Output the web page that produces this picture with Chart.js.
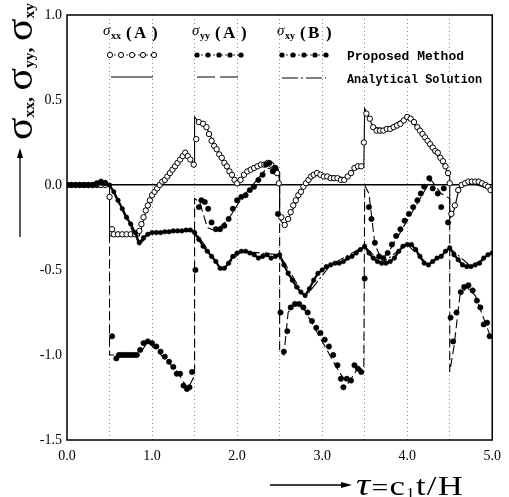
<!DOCTYPE html>
<html><head><meta charset="utf-8">
<script src="https://cdn.jsdelivr.net/npm/chart.js@4.4.1/dist/chart.umd.min.js"></script>
<style>html,body{margin:0;padding:0;background:#fff}#wrap{width:509px;height:497px;position:relative}</style>
</head><body><div id="wrap"><canvas id="c" width="509" height="497"></canvas></div>
<script>
// ---- tick values ----
const xTickLabels = [0.0, 1.0, 2.0, 3.0, 4.0, 5.0];
const yTickLabels = [-1.5, -1.0, -0.5, 0.0, 0.5, 1.0];

// ---- sigma_xx (A), proposed method (open circles) ----
const sxxT = [0,0.05,0.1,0.15,0.2,0.25,0.3,0.35,0.4,0.45,
  0.50,0.53,0.55,0.60,0.65,0.70,0.75,0.80,0.85,0.875,0.90,0.925,0.95,0.975,1.00,1.03,1.06,1.09,1.12,1.15,1.18,1.21,1.24,1.27,1.30,1.33,1.36,1.39,1.42,1.45,1.49,
  1.52,1.55,1.60,1.64,1.67,1.70,1.73,1.76,1.79,1.82,1.85,1.88,1.91,1.94,1.97,2.00,2.04,2.08,2.12,2.16,2.20,2.24,2.28,2.32,2.36,2.40,2.44,2.47,2.49,
  2.52,2.56,2.60,2.63,2.66,2.69,2.72,2.75,2.78,2.81,2.84,2.87,2.90,2.94,2.98,3.02,3.06,3.10,3.14,3.18,3.22,3.26,3.30,3.34,3.38,3.42,3.46,
  3.49,3.52,3.56,3.60,3.64,3.68,3.72,3.76,3.80,3.84,3.88,3.92,3.96,4.00,4.04,4.08,4.12,4.15,4.18,4.21,4.24,4.27,4.30,4.33,4.36,4.39,4.42,4.45,4.48,4.50,
  4.52,4.56,4.60,4.64,4.68,4.72,4.76,4.80,4.84,4.88,4.92,4.95,4.98];
const sxxV = [0,0,0,0,0,0,0,0,0,0,
  -0.07,-0.26,-0.29,-0.29,-0.29,-0.29,-0.29,-0.29,-0.27,-0.23,-0.19,-0.15,-0.12,-0.09,-0.06,-0.04,-0.02,0.00,0.02,0.03,0.05,0.07,0.09,0.11,0.13,0.15,0.17,0.19,0.17,0.15,0.12,
  0.27,0.37,0.36,0.34,0.30,0.26,0.23,0.21,0.18,0.16,0.13,0.11,0.08,0.06,0.03,0.01,0.03,0.06,0.08,0.09,0.10,0.11,0.12,0.12,0.13,0.12,0.10,0.07,0.01,
  -0.19,-0.235,-0.20,-0.16,-0.12,-0.09,-0.06,-0.04,-0.01,0.01,0.03,0.05,0.06,0.07,0.06,0.05,0.05,0.04,0.04,0.04,0.03,0.03,0.05,0.07,0.10,0.11,0.11,
  0.25,0.42,0.39,0.34,0.32,0.32,0.32,0.33,0.33,0.34,0.35,0.36,0.38,0.40,0.39,0.37,0.34,0.32,0.30,0.28,0.26,0.24,0.22,0.20,0.19,0.16,0.14,0.11,0.07,0.01,
  -0.17,-0.12,-0.03,0.0,0.01,0.02,0.02,0.02,0.02,0.01,0.00,-0.01,-0.03];

// ---- sigma_yy (A), proposed method (filled circles) ----
const syyT = [0,0.05,0.1,0.15,0.2,0.25,0.3,0.35,0.4,0.45,
  0.53,0.58,0.61,0.64,0.67,0.70,0.73,0.76,0.79,0.82,0.86,0.90,0.95,1.00,1.05,1.10,1.15,1.20,1.25,1.29,1.33,1.37,1.41,1.44,1.47,
  1.51,1.55,1.58,1.62,1.66,1.70,1.75,1.80,1.85,1.90,1.95,2.00,2.05,2.10,2.15,2.20,2.25,2.30,2.34,2.38,2.42,2.45,2.48,
  2.51,2.55,2.59,2.63,2.68,2.73,2.78,2.83,2.88,2.93,2.98,3.03,3.08,3.13,3.18,3.22,3.25,3.29,3.34,3.38,3.42,3.46,
  3.50,3.55,3.58,3.62,3.67,3.72,3.77,3.82,3.87,3.92,3.97,4.02,4.07,4.12,4.16,4.20,4.26,4.30,4.36,4.40,4.43,4.48,
  4.51,4.54,4.58,4.63,4.67,4.72,4.77,4.82,4.86,4.90,4.94,4.97];
const syyV = [0,0,0,0,0,0,0,0.01,0.02,0.01,
  -0.89,-1.02,-1.00,-1.00,-1.00,-1.00,-1.00,-1.00,-1.00,-1.00,-0.97,-0.93,-0.92,-0.93,-0.95,-0.98,-1.01,-1.04,-1.07,-1.11,-1.11,-1.18,-1.20,-1.19,-1.10,
  -0.50,-0.13,-0.09,-0.10,-0.14,-0.22,-0.26,-0.26,-0.24,-0.20,-0.14,-0.09,-0.07,-0.06,-0.03,-0.01,0.03,0.06,0.12,0.13,0.08,0.10,-0.17,
  -0.75,-0.98,-0.86,-0.72,-0.70,-0.70,-0.72,-0.75,-0.80,-0.84,-0.87,-0.91,-0.95,-1.00,-1.06,-1.14,-1.19,-1.14,-1.15,-1.06,-1.08,-1.10,
  -0.55,-0.13,-0.20,-0.34,-0.42,-0.43,-0.40,-0.35,-0.30,-0.26,-0.21,-0.17,-0.13,-0.09,-0.05,-0.01,0.04,-0.02,-0.05,-0.13,-0.02,-0.22,
  -0.78,-0.92,-0.75,-0.63,-0.60,-0.59,-0.62,-0.68,-0.72,-0.82,-0.81,-0.89];

// ---- sigma_xy (B), proposed method (small filled circles) ----
const sxyT = [0,0.05,0.1,0.15,0.2,0.25,0.3,0.35,0.4,0.45,0.5,0.55,0.6,0.65,0.7,0.75,0.8,0.85,0.9,0.95,
  1.0,1.05,1.1,1.15,1.2,1.25,1.3,1.35,1.4,1.45,1.5,1.55,1.6,1.65,1.7,1.75,1.8,1.85,1.9,1.95,
  2.0,2.05,2.1,2.15,2.2,2.25,2.3,2.35,2.4,2.45,2.5,2.55,2.6,2.65,2.7,2.75,2.8,2.85,2.9,2.95,
  3.0,3.05,3.1,3.15,3.2,3.25,3.3,3.35,3.4,3.45,3.5,3.55,3.6,3.65,3.7,3.75,3.8,3.85,3.9,3.95,
  4.0,4.05,4.1,4.15,4.2,4.25,4.3,4.35,4.4,4.45,4.5,4.55,4.6,4.65,4.7,4.75,4.8,4.85,4.9,4.95,5.0];
const sxyV = [0,0,0,0,0,0,0,0,0.01,0.015,0,-0.04,-0.09,-0.14,-0.19,-0.23,-0.28,-0.34,-0.31,-0.29,
  -0.28,-0.28,-0.28,-0.275,-0.275,-0.27,-0.27,-0.27,-0.265,-0.265,-0.28,-0.32,-0.36,-0.39,-0.42,-0.45,-0.49,-0.49,-0.46,-0.42,
  -0.40,-0.39,-0.39,-0.40,-0.41,-0.43,-0.42,-0.41,-0.43,-0.42,-0.41,-0.47,-0.52,-0.56,-0.60,-0.63,-0.65,-0.61,-0.56,-0.52,
  -0.50,-0.48,-0.47,-0.46,-0.46,-0.45,-0.43,-0.42,-0.40,-0.38,-0.36,-0.40,-0.43,-0.45,-0.46,-0.46,-0.45,-0.43,-0.39,-0.36,
  -0.35,-0.35,-0.38,-0.42,-0.46,-0.47,-0.45,-0.43,-0.42,-0.39,-0.37,-0.41,-0.44,-0.47,-0.48,-0.48,-0.47,-0.46,-0.43,-0.41,-0.40];

// ---- analytical solutions ----
const axxT = [0,0.5,0.5,0.85,0.92,1.0,1.1,1.2,1.3,1.4,1.5,1.5,1.55,1.62,1.75,1.9,2.0,2.15,2.35,2.48,2.5,2.5,2.56,2.62,2.8,2.92,3.3,3.4,3.49,3.5,3.6,3.75,4.0,4.2,4.45,4.5,4.5,4.55,4.62,4.7,5.0];
const axxV = [0,0,-0.30,-0.30,-0.17,-0.06,0.01,0.06,0.13,0.19,0.12,0.40,0.37,0.36,0.22,0.08,0.0,0.09,0.13,0.10,0.02,-0.20,-0.24,-0.18,0,0.07,0.04,0.11,0.11,0.45,0.34,0.33,0.40,0.29,0.10,0.05,-0.20,-0.15,0.0,0.02,-0.03];
const ayyT = [0,0.5,0.5,0.85,0.95,1.3,1.42,1.5,1.5,1.56,1.65,1.75,1.9,2.05,2.35,2.5,2.5,2.55,2.6,2.68,2.8,3.2,3.3,3.42,3.49,3.5,3.55,3.62,3.7,3.8,4.28,4.4,4.5,4.5,4.55,4.62,4.7,4.8,5.0];
const ayyV = [0,0,-1.0,-1.0,-0.92,-1.10,-1.20,-1.12,-0.08,-0.10,-0.25,-0.27,-0.20,-0.08,0.10,0.08,-0.98,-1.0,-0.75,-0.69,-0.74,-1.10,-1.17,-1.08,-1.08,0.0,-0.05,-0.35,-0.44,-0.38,0.03,-0.05,-0.08,-1.10,-0.95,-0.65,-0.60,-0.65,-0.92];
const axyT = [0,0.5,0.85,1.0,1.5,1.82,2.05,2.5,2.8,3.1,3.5,3.7,4.0,4.25,4.5,4.75,5.0];
const axyV = [0,0,-0.35,-0.28,-0.27,-0.50,-0.39,-0.41,-0.66,-0.47,-0.36,-0.46,-0.35,-0.47,-0.37,-0.48,-0.40];

const pts = (t, v) => t.map((x, i) => ({x: x, y: v[i]}));
const SERIF = "'Liberation Serif', 'Times New Roman', serif";

const overlay = {
  id: 'overlay',
  afterDraw(chart) {
    const ctx = chart.ctx, a = chart.chartArea;
    ctx.save();
    // frame
    ctx.strokeStyle = '#000'; ctx.lineWidth = 1.5;
    ctx.strokeRect(a.left, a.top, a.right - a.left, a.bottom - a.top);

    // legend titles
    ctx.fillStyle = '#000'; ctx.textBaseline = 'alphabetic';
    function lab(x, sub, letter) {
      ctx.font = 'italic 15px ' + SERIF; ctx.textAlign = 'left';
      ctx.fillText('σ', x, 35);
      ctx.font = 'bold 10px ' + SERIF;
      ctx.fillText(sub, x + 8, 39);
      ctx.font = 'bold 17px ' + SERIF;
      ctx.fillText('(', x + 23, 38);
      ctx.fillText(letter, x + 31, 38);
      ctx.fillText(')', x + 49, 38);
    }
    lab(103, 'xx', 'A'); lab(192, 'yy', 'A'); lab(277, 'xy', 'B');

    // legend marker rows
    function markers(x0, open, r) {
      ctx.lineWidth = 0.8; ctx.strokeStyle = '#000';
      ctx.setLineDash([2, 2]);
      ctx.beginPath(); ctx.moveTo(x0, 55); ctx.lineTo(x0 + 44, 55); ctx.stroke();
      ctx.setLineDash([]);
      for (let i = 0; i < 5; i++) {
        ctx.beginPath(); ctx.arc(x0 + i * 11, 55, r, 0, Math.PI * 2);
        if (open) { ctx.fillStyle = '#fff'; ctx.fill(); ctx.lineWidth = 1; ctx.stroke(); }
        else { ctx.fillStyle = '#000'; ctx.fill(); }
      }
    }
    markers(110, true, 2.6); markers(197, false, 2.6); markers(282, false, 2.6);
    // legend line rows
    ctx.strokeStyle = '#000'; ctx.lineWidth = 1.2;
    ctx.setLineDash([]);
    ctx.beginPath(); ctx.moveTo(111, 77); ctx.lineTo(153, 77); ctx.stroke();
    ctx.setLineDash([18, 5]);
    ctx.beginPath(); ctx.moveTo(197, 77); ctx.lineTo(239, 77); ctx.stroke();
    ctx.setLineDash([16, 3, 2, 3]);
    ctx.beginPath(); ctx.moveTo(282, 78); ctx.lineTo(326, 78); ctx.stroke();
    ctx.setLineDash([]);

    ctx.fillStyle = '#000';
    ctx.font = "bold 13px 'Liberation Mono', monospace"; ctx.textAlign = 'left'; ctx.textBaseline = 'middle';
    ctx.fillText('Proposed Method', 347, 57, 130);
    ctx.fillText('Analytical Solution', 347, 80, 135);

    // y-axis title (rotated)
    ctx.save();
    ctx.translate(32, 140);
    ctx.rotate(-Math.PI / 2);
    ctx.textBaseline = 'alphabetic'; ctx.textAlign = 'left';
    const parts = [['σ', 'big'], ['xx', 'sub'], [',', 'com'], ['σ', 'big'], ['yy', 'sub'], [',', 'com'], ['σ', 'big'], ['xy', 'sub']];
    const fontOf = k => k === 'big' ? '38px ' + SERIF : (k === 'sub' ? 'bold 14px ' + SERIF : 'bold 18px ' + SERIF);
    let total = 0;
    const widths = parts.map(p => { ctx.font = fontOf(p[1]); const w = ctx.measureText(p[0]).width + (p[1] === 'com' ? 6 : 0); total += w; return w; });
    const k = 137 / total;
    ctx.scale(k, 1);
    let px = 0;
    parts.forEach((p, i) => {
      ctx.font = fontOf(p[1]);
      const dy = p[1] === 'sub' ? 2 : 0;
      ctx.fillText(p[0], px, dy);
      px += widths[i];
    });
    ctx.restore();
    // y arrow
    ctx.strokeStyle = '#000'; ctx.lineWidth = 1.3;
    ctx.beginPath(); ctx.moveTo(20, 237); ctx.lineTo(20, 154); ctx.stroke();
    ctx.beginPath(); ctx.moveTo(20, 148); ctx.lineTo(17, 158); ctx.lineTo(23, 158); ctx.closePath(); ctx.fillStyle = '#000'; ctx.fill();

    // x-axis title
    ctx.beginPath(); ctx.moveTo(270, 485); ctx.lineTo(344, 485); ctx.stroke();
    ctx.beginPath(); ctx.moveTo(352, 485); ctx.lineTo(341, 482); ctx.lineTo(341, 488); ctx.closePath(); ctx.fill();
    ctx.textBaseline = 'alphabetic'; ctx.textAlign = 'left';
    const xt = [['τ', 'italic 32px ' + SERIF, 0], ['=', '24px ' + SERIF, 0], ['c', '28px ' + SERIF, 0], ['1', '14px ' + SERIF, 3], ['t', '28px ' + SERIF, 0], ['/', '28px ' + SERIF, 0], ['H', '28px ' + SERIF, 0]];
    let tw = 0;
    const xw = xt.map(p => { ctx.font = p[1]; const w = ctx.measureText(p[0]).width + 1; tw += w; return w; });
    ctx.save();
    ctx.translate(356, 0);
    ctx.scale(108 / tw, 1);
    let tx = 0;
    xt.forEach((p, i) => { ctx.font = p[1]; ctx.fillText(p[0], tx, 495 + p[2]); tx += xw[i]; });
    ctx.restore();
    ctx.restore();
  }
};

new Chart(document.getElementById('c'), {
  type: 'scatter',
  data: {
    datasets: [
      {label: 'σyy(A) Proposed', data: pts(syyT, syyV), pointRadius: 2.7, pointBackgroundColor: '#000', pointBorderColor: '#000', pointBorderWidth: 0.5, showLine: false, order: 1},
      {label: 'σxy(B) Proposed', data: pts(sxyT, sxyV), pointRadius: 2.3, pointBackgroundColor: '#000', pointBorderColor: '#000', pointBorderWidth: 0.5, showLine: true, borderColor: '#000', borderWidth: 2.2, order: 2},
      {label: 'σxx(A) Proposed', data: pts(sxxT, sxxV), pointRadius: 2.7, pointBackgroundColor: '#fff', pointBorderColor: '#000', pointBorderWidth: 1, showLine: false, order: 3},
      {label: 'σxx(A) Analytical', data: pts(axxT, axxV), pointRadius: 0, showLine: true, borderColor: '#000', borderWidth: 1.1, order: 4},
      {label: 'σyy(A) Analytical', data: pts(ayyT, ayyV), pointRadius: 0, showLine: true, borderColor: '#000', borderWidth: 1.1, borderDash: [9, 4], order: 5},
      {label: 'σxy(B) Analytical', data: pts(axyT, axyV), pointRadius: 0, showLine: true, borderColor: '#000', borderWidth: 1.1, borderDash: [10, 3, 2, 3], order: 6}
    ]
  },
  options: {
    responsive: false, animation: false, devicePixelRatio: 1,
    layout: {padding: {left: 0, right: 12, top: 15, bottom: 27}},
    plugins: {legend: {display: false}, tooltip: {enabled: false}},
    scales: {
      x: {
        type: 'linear', min: 0, max: 5,
        afterFit: s => { s.height = 30; },
        ticks: {stepSize: 0.5, autoSkip: false, maxRotation: 0, padding: 8, color: '#000',
          font: {family: SERIF, size: 14},
          callback: v => xTickLabels.some(t => Math.abs(t - v) < 1e-6) ? Number(v).toFixed(1) : ''},
        grid: {drawTicks: false, lineWidth: 1,
          color: c => (c.tick && (Math.abs(c.tick.value) < 1e-6 || Math.abs(c.tick.value - 5) < 1e-6)) ? 'rgba(0,0,0,0)' : '#8a8a8a'},
        border: {display: false, dash: [1, 3]}
      },
      y: {
        min: -1.5, max: 1.0,
        afterFit: s => { s.width = 67; },
        ticks: {stepSize: 0.5, padding: 5, color: '#000', font: {family: SERIF, size: 14},
          callback: v => yTickLabels.some(t => Math.abs(t - v) < 1e-6) ? Number(v).toFixed(1) : ''},
        grid: {drawTicks: false,
          color: c => (c.tick && Math.abs(c.tick.value) < 1e-6) ? '#000' : 'rgba(0,0,0,0)',
          lineWidth: c => (c.tick && Math.abs(c.tick.value) < 1e-6) ? 1.6 : 1},
        border: {display: false}
      }
    }
  },
  plugins: [overlay]
});
</script>
</body></html>
